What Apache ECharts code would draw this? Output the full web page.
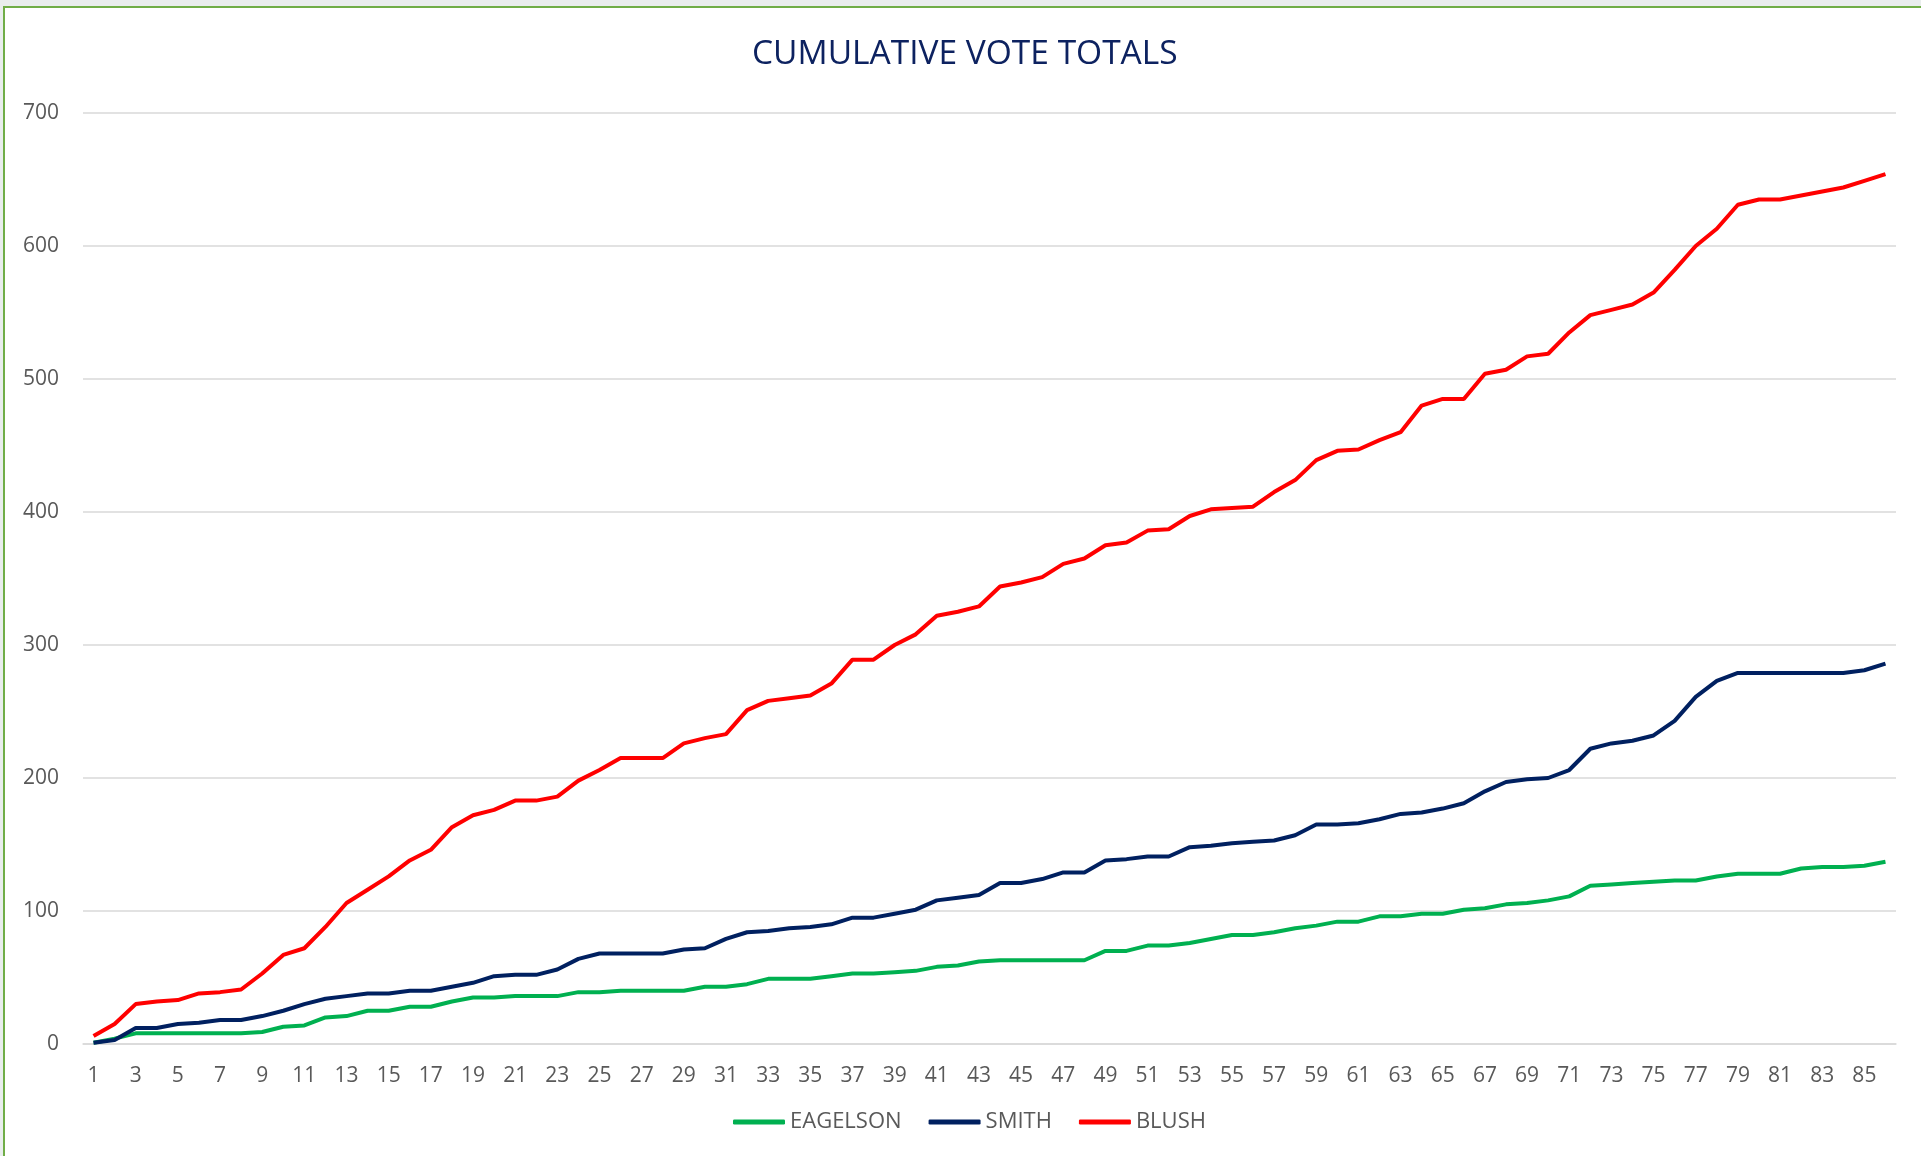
<!DOCTYPE html>
<html>
<head>
<meta charset="utf-8">
<title>Cumulative vote totals</title>
<script src="https://cdn.jsdelivr.net/npm/echarts@6/dist/echarts.min.js"></script>
<style>
  html, body {
    margin: 0;
    padding: 0;
    background: #e9eded;
  }
  .frame {
    position: absolute;
    left: 3px;
    top: 6px;
    width: 1918px;
    height: 1150px;
    background: #fff;
    border-left: 2px solid #70ad47;
    border-top: 2px solid #70ad47;
  }
  #chart {
    position: absolute;
    left: 0;
    top: 0;
    width: 1921px;
    height: 1156px;
  }
</style>
</head>
<body>
<div class="frame"></div>
<div id="chart"></div>
<script>
// one entry per counted ballot box, 1..86
const rounds = []
for (let i = 1; i <= 86; i++) rounds.push(String(i))

const eagelson = [
  1, 4, 8, 8, 8, 8, 8, 8, 9, 13, 14, 20, 21, 25, 25, 28, 28, 32, 35, 35, 36, 36, 36,
  39, 39, 40, 40, 40, 40, 43, 43, 45, 49, 49, 49, 51, 53, 53, 54, 55, 58, 59, 62, 63,
  63, 63, 63, 63, 70, 70, 74, 74, 76, 79, 82, 82, 84, 87, 89, 92, 92, 96, 96, 98, 98, 101, 102,
  105, 106, 108, 111, 119, 120, 121, 122, 123, 123, 126, 128, 128, 128, 132, 133, 133, 134, 137
]
const smith = [
  1, 3, 12, 12, 15, 16, 18, 18, 21, 25, 30, 34, 36, 38, 38, 40, 40, 43, 46, 51, 52, 52, 56,
  64, 68, 68, 68, 68, 71, 72, 79, 84, 85, 87, 88, 90, 95, 95, 98, 101, 108, 110, 112, 121,
  121, 124, 129, 129, 138, 139, 141, 141, 148, 149, 151, 152, 153, 157, 165, 165, 166, 169, 173, 174, 177, 181, 190,
  197, 199, 200, 206, 222, 226, 228, 232, 243, 261, 273, 279, 279, 279, 279, 279, 279, 281, 286
]
const blush = [
  6, 15, 30, 32, 33, 38, 39, 41, 53, 67, 72, 88, 106, 116, 126, 138, 146, 163, 172, 176, 183, 183, 186,
  198, 206, 215, 215, 215, 226, 230, 233, 251, 258, 260, 262, 271, 289, 289, 300, 308, 322, 325, 329, 344,
  347, 351, 361, 365, 375, 377, 386, 387, 397, 402, 403, 404, 415, 424, 439, 446, 447, 454, 460, 480, 485, 485, 504,
  507, 517, 519, 535, 548, 552, 556, 565, 582, 600, 613, 631, 635, 635, 638, 641, 644, 649, 654
]

const font = "'Open Sans', 'Noto Sans', sans-serif"
const labelColor = '#595959'
const gridColor = '#d9d9d9'

function line(name, data, color) {
  return {
    name: name,
    type: 'line',
    data: data,
    symbol: 'none',
    smooth: false,
    lineStyle: { color: color, width: 4 },
    itemStyle: { color: color },
    emphasis: { disabled: true }
  }
}

const chart = echarts.init(document.getElementById('chart'))
chart.setOption({
  animation: false,
  backgroundColor: 'transparent',
  title: {
    text: 'CUMULATIVE VOTE TOTALS',
    left: 747,
    top: 32,
    textStyle: {
      fontFamily: font,
      fontSize: 33.5,
      fontWeight: 'normal',
      color: '#0d2260'
    }
  },
  legend: {
    left: 728,
    top: 1106,
    icon: 'roundRect',
    itemWidth: 52,
    itemHeight: 5,
    itemGap: 27,
    textStyle: { fontFamily: font, fontSize: 22, color: labelColor }
  },
  grid: {
    left: 83,
    right: 25,
    top: 113,
    bottom: 112
  },
  xAxis: {
    type: 'category',
    data: rounds,
    boundaryGap: true,
    axisLine: { lineStyle: { color: gridColor, width: 1.5 } },
    axisTick: { show: false },
    axisLabel: {
      interval: 1,
      margin: 22,
      fontFamily: font,
      fontSize: 21,
      color: labelColor
    }
  },
  yAxis: {
    type: 'value',
    min: 0,
    max: 700,
    interval: 100,
    axisLine: { show: false },
    axisTick: { show: false },
    splitLine: { lineStyle: { color: gridColor, width: 1.5 } },
    axisLabel: {
      margin: 24,
      fontFamily: font,
      fontSize: 21,
      color: labelColor
    }
  },
  series: [
    line('EAGELSON', eagelson, '#00b050'),
    line('SMITH', smith, '#002060'),
    line('BLUSH', blush, '#ff0000')
  ]
})
</script>
</body>
</html>
